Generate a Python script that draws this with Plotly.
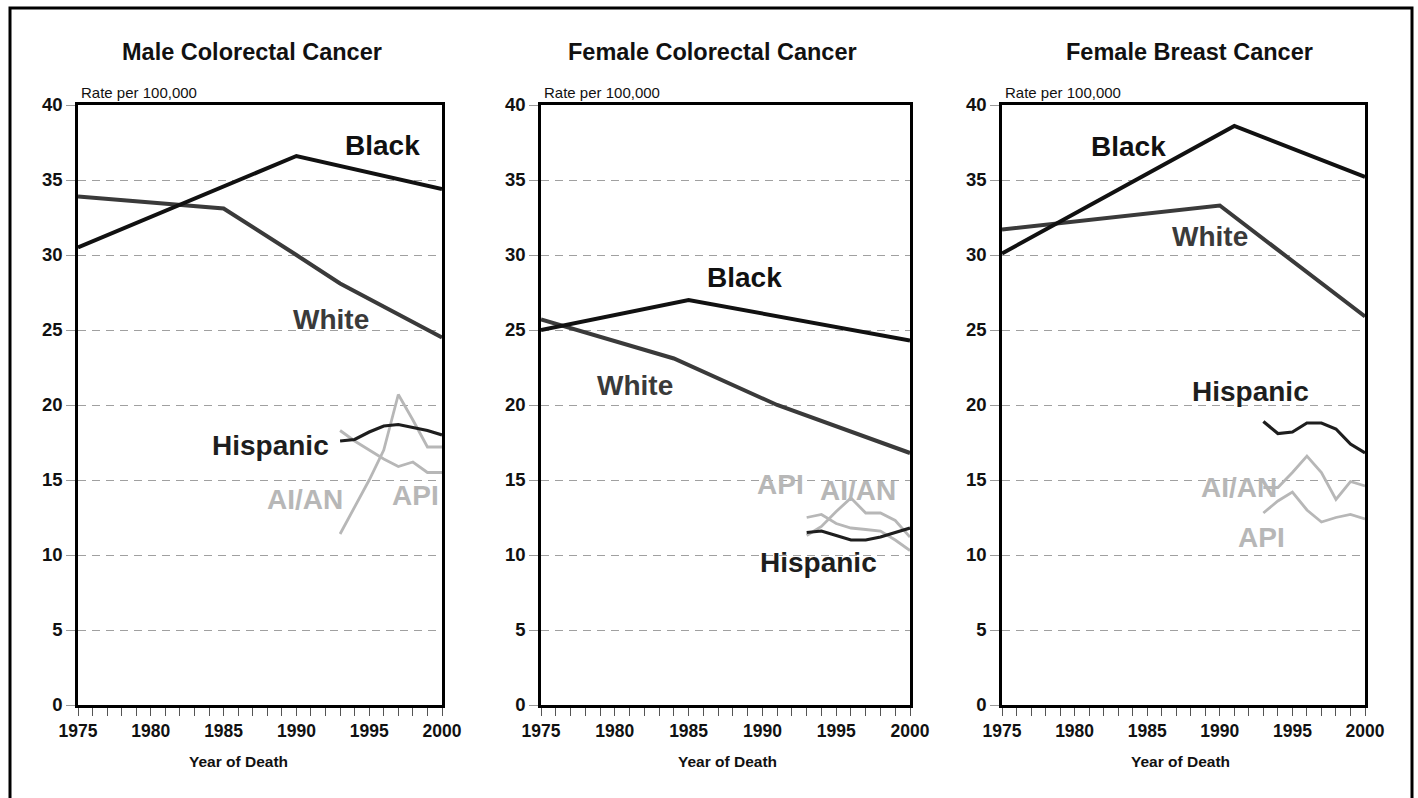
import plotly.graph_objects as go

# ---------------- data ----------------
panel_titles = ["Male Colorectal Cancer", "Female Colorectal Cancer", "Female Breast Cancer"]
x_tick_labels = [1975, 1980, 1985, 1990, 1995, 2000]
y_tick_labels = [0, 5, 10, 15, 20, 25, 30, 35, 40]

# Male colorectal
mcrc_black_years = [1975, 1990, 2000]
mcrc_black = [30.5, 36.6, 34.4]
mcrc_white_years = [1975, 1985, 1990, 1993, 2000]
mcrc_white = [33.9, 33.1, 30.0, 28.1, 24.5]
mcrc_hisp_years = [1993, 1994, 1995, 1996, 1997, 1998, 1999, 2000]
mcrc_hisp = [17.6, 17.7, 18.2, 18.6, 18.7, 18.5, 18.3, 18.0]
mcrc_aian = [11.4, 13.2, 15.0, 17.0, 20.7, 19.0, 17.2, 17.2]
mcrc_api = [18.3, 17.6, 17.0, 16.4, 15.9, 16.2, 15.5, 15.5]

# Female colorectal
fcrc_black_years = [1975, 1985, 2000]
fcrc_black = [25.0, 27.0, 24.3]
fcrc_white_years = [1975, 1984, 1991, 2000]
fcrc_white = [25.7, 23.1, 20.0, 16.8]
fcrc_hisp_years = [1993, 1994, 1995, 1996, 1997, 1998, 1999, 2000]
fcrc_hisp = [11.5, 11.6, 11.3, 11.0, 11.0, 11.2, 11.5, 11.8]
fcrc_aian = [11.3, 11.9, 12.9, 13.8, 12.8, 12.8, 12.3, 11.2]
fcrc_api = [12.5, 12.7, 12.1, 11.8, 11.7, 11.6, 11.0, 10.3]

# Female breast
fbc_black_years = [1975, 1991, 2000]
fbc_black = [30.1, 38.6, 35.2]
fbc_white_years = [1975, 1990, 2000]
fbc_white = [31.7, 33.3, 25.9]
fbc_hisp_years = [1993, 1994, 1995, 1996, 1997, 1998, 1999, 2000]
fbc_hisp = [18.9, 18.1, 18.2, 18.8, 18.8, 18.4, 17.4, 16.8]
fbc_aian = [14.5, 14.5, 15.5, 16.6, 15.5, 13.7, 14.9, 14.6]
fbc_api = [12.8, 13.6, 14.2, 13.0, 12.2, 12.5, 12.7, 12.4]

group_names = ["Black", "White", "Hispanic", "AI/AN", "API"]

# label anchor positions (year, rate) for each panel, in group_names order
label_pos = [
    [(1995.9, 37.3), (1992.4, 25.7), (1988.2, 17.3), (1990.6, 13.7), (1998.2, 14.0)],
    [(1988.8, 28.5), (1981.4, 21.3), (1993.8, 9.5), (1996.5, 14.3), (1991.2, 14.7)],
    [(1983.7, 37.2), (1989.3, 31.2), (1992.1, 20.9), (1991.3, 14.5), (1992.9, 11.2)],
]

# ---------------- styling ----------------
FONT = "Liberation Sans, Arial, Helvetica, sans-serif"
W, H = 1418, 798
colors = {"Black": "#111111", "White": "#3a3a3a", "Hispanic": "#1e1e1e",
          "AI/AN": "#b7b7b7", "API": "#b7b7b7"}
widths = {"Black": 4, "White": 4, "Hispanic": 3.2, "AI/AN": 2.8, "API": 2.8}

# pixel layout of plot areas
px_left = [78, 541, 1002]
px_right = [442, 910, 1365]
px_top, px_bottom = 105, 705

panels = [
    dict(Black=(mcrc_black_years, mcrc_black), White=(mcrc_white_years, mcrc_white),
         Hispanic=(mcrc_hisp_years, mcrc_hisp), **{"AI/AN": (mcrc_hisp_years, mcrc_aian)},
         API=(mcrc_hisp_years, mcrc_api)),
    dict(Black=(fcrc_black_years, fcrc_black), White=(fcrc_white_years, fcrc_white),
         Hispanic=(fcrc_hisp_years, fcrc_hisp), **{"AI/AN": (fcrc_hisp_years, fcrc_aian)},
         API=(fcrc_hisp_years, fcrc_api)),
    dict(Black=(fbc_black_years, fbc_black), White=(fbc_white_years, fbc_white),
         Hispanic=(fbc_hisp_years, fbc_hisp), **{"AI/AN": (fbc_hisp_years, fbc_aian)},
         API=(fbc_hisp_years, fbc_api)),
]

draw_order = ["AI/AN", "API", "White", "Black", "Hispanic"]

fig = go.Figure()
annotations = []
layout_axes = {}

title_centers = [252, 712, 1189]
xtitle_centers = [239, 727, 1180]

for i, data in enumerate(panels):
    sfx = "" if i == 0 else str(i + 1)
    xref = "x" + sfx
    yref = "y" + sfx
    for g in draw_order:
        xs, ys = data[g]
        fig.add_trace(go.Scatter(x=xs, y=ys, mode="lines", xaxis=xref, yaxis=yref,
                                 line=dict(color=colors[g], width=widths[g]),
                                 showlegend=False, hoverinfo="x+y", name=g))
    dom_x = [px_left[i] / W, px_right[i] / W]
    dom_y = [1 - px_bottom / H, 1 - px_top / H]
    layout_axes["xaxis" + sfx] = dict(
        domain=dom_x, range=[1975, 2000], anchor=yref, automargin=False,
        tickvals=x_tick_labels, ticktext=[str(v) for v in x_tick_labels],
        ticks="outside", ticklen=8, tickwidth=1, tickcolor="#555555",
        minor=dict(dtick=1, tick0=1975, ticks="outside", ticklen=8, tickwidth=1,
                   tickcolor="#555555", showgrid=False),
        showline=True, mirror=True, linecolor="#000000", linewidth=2.5,
        showgrid=False, zeroline=False,
        tickfont=dict(family=FONT, size=17.5, color="#111111", weight="bold"),
    )
    layout_axes["yaxis" + sfx] = dict(
        domain=dom_y, range=[0, 40], anchor=xref, automargin=False,
        tickvals=y_tick_labels, ticktext=[str(v) for v in y_tick_labels],
        ticks="outside", ticklen=9, tickwidth=1, tickcolor="#999999",
        showline=True, mirror=True, linecolor="#000000", linewidth=2.5,
        showgrid=True, gridcolor="#a0a0a0", gridwidth=1, griddash="8px,6px",
        zeroline=False,
        tickfont=dict(family=FONT, size=18.5, color="#111111", weight="bold"),
    )
    # panel title
    annotations.append(dict(text="<b>" + panel_titles[i] + "</b>", xref="paper", yref="paper",
                            x=title_centers[i] / W, y=1 - 52 / H, xanchor="center", yanchor="middle",
                            showarrow=False, font=dict(family=FONT, size=23.5, color="#111111")))
    annotations.append(dict(text="Rate per 100,000", xref="paper", yref="paper",
                            x=(px_left[i] + 1) / W, y=1 - 92 / H, xanchor="left", yanchor="middle",
                            showarrow=False, font=dict(family=FONT, size=15, color="#111111")))
    annotations.append(dict(text="<b>Year of Death</b>", xref="paper", yref="paper",
                            x=xtitle_centers[i] / W, y=1 - 761 / H, xanchor="center", yanchor="middle",
                            showarrow=False, font=dict(family=FONT, size=15.5, color="#111111")))
    for g, (lx, ly) in zip(group_names, label_pos[i]):
        annotations.append(dict(text="<b>" + g + "</b>", xref=xref, yref=yref, x=lx, y=ly,
                                xanchor="center", yanchor="middle", showarrow=False,
                                font=dict(family=FONT, size=28, color=colors[g])))

fig.update_layout(
    width=W, height=H, autosize=False,
    margin=dict(l=0, r=0, t=0, b=0, pad=0, autoexpand=False),
    paper_bgcolor="#ffffff", plot_bgcolor="#ffffff",
    showlegend=False,
    annotations=annotations,
    shapes=[dict(type="rect", xref="paper", yref="paper",
                 x0=10 / W, x1=1412 / W, y0=-0.01, y1=1 - 8 / H,
                 line=dict(color="#000000", width=3))],
    **layout_axes,
)

fig.write_html(
    "out.html",
    config={"displayModeBar": False},
    post_script="document.body.style.margin='0';document.body.style.padding='0';"
                "document.body.style.overflow='hidden';"
                "document.documentElement.style.overflow='hidden';",
)
